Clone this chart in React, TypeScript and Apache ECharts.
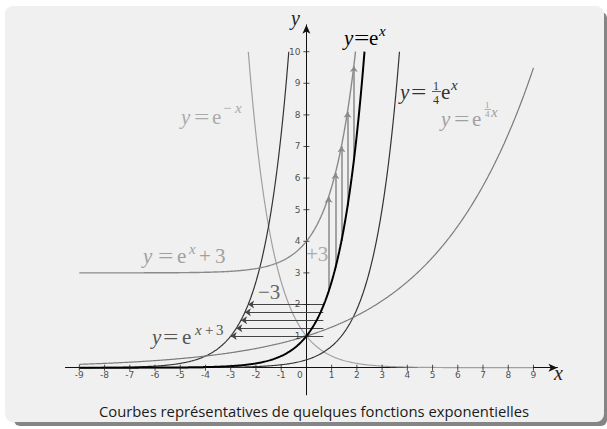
import React, { useEffect, useRef } from 'react';
import * as echarts from 'echarts';

// ---- data ----
const xTicks = [-9, -8, -7, -6, -5, -4, -3, -2, -1, 1, 2, 3, 4, 5, 6, 7, 8, 9];
const yTicks = [1, 2, 3, 4, 5, 6, 7, 8, 9, 10];
const originLabel = '0';
const curveNames = ['exp', 'expNeg', 'expShiftX', 'expPlus3', 'quarterExp', 'expQuarterX'];
// y = factor * e^(rate * x + shift) + offset
const curveFactor = [1, 1, 1, 1, 0.25, 1];
const curveRate = [1, -1, 1, 1, 1, 0.25];
const curveShift = [0, 0, 3, 0, 0, 0];
const curveOffset = [0, 0, 0, 3, 0, 0];
const hArrowY = [2, 1.75, 1.5, 1.25, 1];
const hArrowFrom = [0.67, 0.67, 0.67, 0.67, 0.67];
const hArrowTo = [-2.31, -2.44, -2.59, -2.78, -3.0];
const vArrowX = [0.88, 1.15, 1.39, 1.63, 1.88];
const vArrowFrom = [2.41, 3.16, 4.01, 5.1, 6.55];
const vArrowTo = [5.41, 6.16, 7.01, 8.1, 9.55];
const caption = 'Courbes représentatives de quelques fonctions exponentielles';

// ---- styles ----
const curveColor = ['#000000', '#a0a0a0', '#333333', '#8a8a8a', '#333333', '#7a7a7a'];
const curveWidth = [2, 1.2, 1.2, 1.4, 1.2, 1.2];
const SERIF = '"Liberation Serif", "DejaVu Serif", serif';
const SANS = '"DejaVu Sans", sans-serif';

function sample(i: number) {
  const f = (x: number) => curveFactor[i] * Math.exp(curveRate[i] * x + curveShift[i]) + curveOffset[i];
  const xb = (Math.log((10 - curveOffset[i]) / curveFactor[i]) - curveShift[i]) / curveRate[i];
  const pts: number[][] = [];
  const lo = -9, hi = 9;
  const a = curveRate[i] > 0 ? lo : Math.max(lo, xb);
  const b = curveRate[i] > 0 ? Math.min(hi, xb) : hi;
  const n = 600;
  for (let k = 0; k <= n; k++) {
    const x = a + ((b - a) * k) / n;
    pts.push([x, f(x)]);
  }
  return pts;
}

// p.y is the baseline
type Part = { t: string; x: number; y: number; s: number; it?: boolean; sx?: number };
function label(parts: Part[], color: string) {
  return parts.map((p) => ({
    type: 'text',
    x: p.x,
    y: p.y + p.s * 0.22,
    scaleX: p.sx ?? (p.t === '=' ? 1.3 : 1),
    z: 50,
    style: {
      text: p.t,
      fontSize: p.s,
      fontFamily: SERIF,
      fontStyle: p.it ? 'italic' : 'normal',
      fill: color,
      textAlign: 'left',
      textVerticalAlign: 'bottom',
      textBaseline: 'bottom',
    },
  }));
}
function bar(x1: number, x2: number, y: number, color: string) {
  return { type: 'line', z: 50, shape: { x1, y1: y, x2, y2: y }, style: { stroke: color, lineWidth: 0.8 } };
}

export default function App() {
  const ref = useRef<HTMLDivElement>(null);
  useEffect(() => {
    const chart = echarts.init(ref.current!, null, { renderer: 'svg' });
    const S = 21, s = 15;
    const graphics: any[] = [
      { type: 'rect', z: -20, shape: { x: 14, y: 12, width: 593, height: 414, r: 6 }, style: { fill: '#858585' } },
      { type: 'rect', z: -19, shape: { x: 5, y: 6, width: 599, height: 416, r: 8 }, style: { fill: '#f0f0f0' } },
      ...label([{ t: 'y', x: 344, y: 44, s: S, it: true }, { t: '=', x: 354, y: 44, s: S }, { t: 'e', x: 369, y: 44, s: S }, { t: 'x', x: 379, y: 35, s, it: true }], '#000'),
      ...label([{ t: 'y', x: 181, y: 123, s: S, it: true }, { t: '=', x: 194, y: 123, s: S }, { t: 'e', x: 212, y: 123, s: S }, { t: '−', x: 223, y: 112, s }, { t: 'x', x: 235, y: 112, s, it: true }], '#aaaaaa'),
      ...label([{ t: 'y', x: 400, y: 98, s: S, it: true }, { t: '=', x: 411, y: 98, s: S }, { t: '1', x: 433, y: 89, s: 12 }, { t: '4', x: 433, y: 103, s: 12 }, { t: 'e', x: 441, y: 98, s: S }, { t: 'x', x: 451, y: 89, s, it: true }], '#333333'),
      bar(432, 441, 91.5, '#333333'),
      ...label([{ t: 'y', x: 441, y: 125, s: S, it: true }, { t: '=', x: 454, y: 125, s: S }, { t: 'e', x: 472, y: 125, s: S }, { t: '1', x: 485, y: 108, s: 9 }, { t: '4', x: 485, y: 117, s: 9 }, { t: 'x', x: 491, y: 116, s, it: true }], '#a0a0a0'),
      bar(484.5, 491, 109.5, '#a0a0a0'),
      ...label([{ t: 'y', x: 152, y: 343, s: S, it: true }, { t: '=', x: 163, y: 343, s: S }, { t: 'e', x: 182, y: 343, s: S }, { t: 'x', x: 195, y: 334, s, it: true }, { t: '+', x: 205, y: 334, s }, { t: '3', x: 216, y: 334, s }], '#555555'),
      ...label([{ t: 'y', x: 143, y: 262, s: S, it: true }, { t: '=', x: 158, y: 262, s: S }, { t: 'e', x: 177, y: 262, s: S }, { t: 'x', x: 189, y: 253, s, it: true }, { t: '+', x: 199, y: 262, s: S }, { t: '3', x: 215, y: 262, s: S }], '#a0a0a0'),
      ...label([{ t: '+3', x: 306, y: 260, s: S }], '#aaaaaa'),
      ...label([{ t: '−3', x: 258, y: 298, s: S }], '#666666'),
      ...label([{ t: 'x', x: 554, y: 379, s: 20, it: true }], '#222'),
      ...label([{ t: 'y', x: 291, y: 24, s: 20, it: true }], '#222'),
      {
        type: 'text', x: 314, y: 418, z: 50,
        style: { text: caption, fontSize: 14.8, fontFamily: '"Open Sans", sans-serif', fill: '#1a1a1a', textAlign: 'center', textVerticalAlign: 'bottom', textBaseline: 'bottom' },
      },
    ];

    const series: any[] = curveNames.map((name, i) => ({
      name,
      type: 'line',
      data: sample(i),
      showSymbol: false,
      symbol: 'none',
      lineStyle: { color: curveColor[i], width: curveWidth[i] },
      z: i === 0 ? 6 : 4,
      silent: true,
    }));
    series.push({
      type: 'lines',
      coordinateSystem: 'cartesian2d',
      symbol: ['none', 'arrow'],
      symbolSize: 6,
      lineStyle: { color: '#444444', width: 1.2, opacity: 1 },
      data: hArrowY.map((y, i) => ({ coords: [[hArrowFrom[i], y], [hArrowTo[i], y]] })),
      z: 5,
    });
    series.push({
      type: 'lines',
      coordinateSystem: 'cartesian2d',
      symbol: ['none', 'arrow'],
      symbolSize: 6,
      lineStyle: { color: '#8a8a8a', width: 1.5, opacity: 1 },
      data: vArrowX.map((x, i) => ({ coords: [[x, vArrowFrom[i]], [x, vArrowTo[i]]] })),
      z: 5,
    });
    const tickLabel = { show: true, fontSize: 9, fontFamily: SANS, color: '#222' };
    series.push({
      type: 'scatter',
      symbol: 'rect',
      symbolSize: [1, 6],
      itemStyle: { color: '#222' },
      data: xTicks.map((v) => [v, 0]),
      label: { ...tickLabel, position: 'bottom', distance: 0, formatter: (p: any) => String(p.value[0]) },
      silent: true,
      z: 7,
    });
    series.push({
      type: 'scatter',
      symbol: 'rect',
      symbolSize: [6, 1],
      itemStyle: { color: '#222' },
      data: yTicks.map((v) => [0, v]),
      label: { ...tickLabel, position: 'left', distance: 3, formatter: (p: any) => String(p.value[1]) },
      silent: true,
      z: 7,
    });
    series.push({
      type: 'scatter',
      symbol: 'rect',
      symbolSize: 1,
      itemStyle: { color: 'rgba(0,0,0,0)' },
      data: [[0, 0]],
      label: { ...tickLabel, position: [-9, 3], formatter: () => originLabel },
      silent: true,
      z: 7,
    });

    chart.setOption({
      animation: false,
      backgroundColor: '#ffffff',
      graphic: graphics,
      grid: { left: 65.45, top: 24.84, width: 492.0, height: 370.0, containLabel: false },
      xAxis: {
        type: 'value',
        min: -9.55,
        max: 9.95,
        splitLine: { show: false },
        axisLine: { onZero: true, symbol: ['none', 'arrow'], symbolSize: [6, 9], lineStyle: { color: '#111', width: 1 } },
        axisTick: { show: false },
        axisLabel: { show: false },
      },
      yAxis: {
        type: 'value',
        min: -0.86,
        max: 10.85,
        splitLine: { show: false },
        axisLine: { onZero: true, symbol: ['none', 'arrow'], symbolSize: [6, 9], lineStyle: { color: '#111', width: 1 } },
        axisTick: { show: false },
        axisLabel: { show: false },
      },
      series,
    });
    return () => chart.dispose();
  }, []);
  return <div ref={ref} style={{ position: 'fixed', left: 0, top: 0, width: 607, height: 429 }} />;
}
